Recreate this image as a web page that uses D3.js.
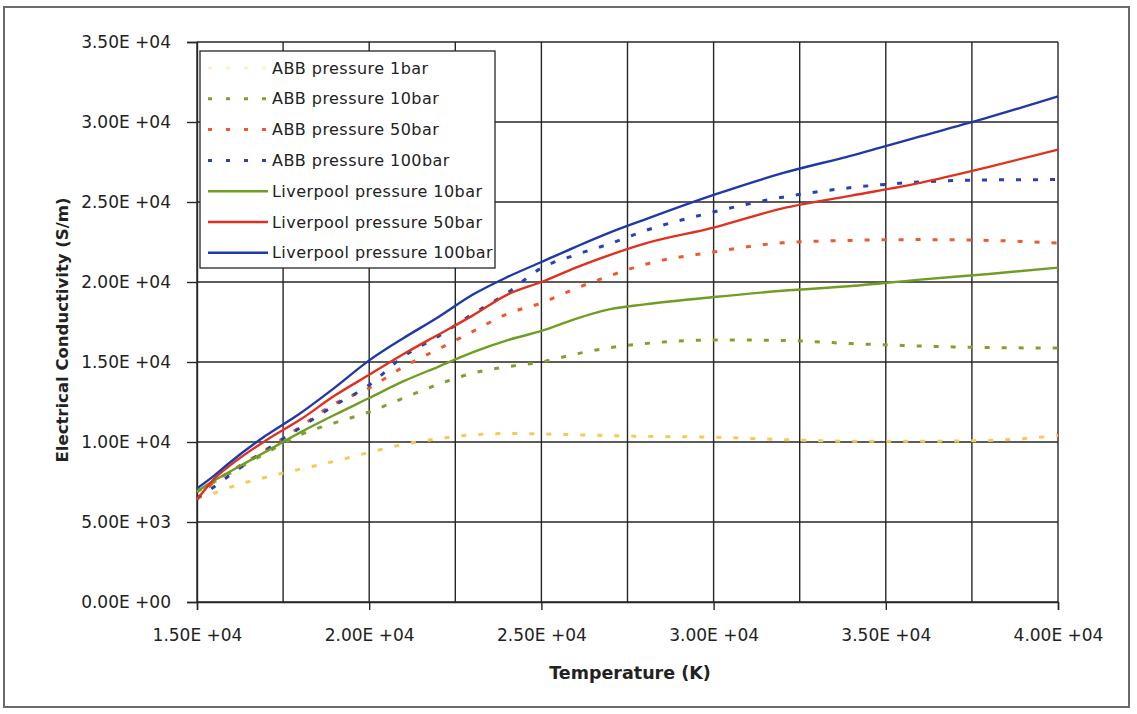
<!DOCTYPE html>
<html>
<head>
<meta charset="utf-8">
<script src="https://cdnjs.cloudflare.com/ajax/libs/d3/7.8.5/d3.min.js"></script>
<style>
  body { margin: 0; background: #fff; }
  text { font-family: "DejaVu Sans", Verdana, sans-serif; fill: #222; }
  .tick text { font-size: 17px; }
  .title { font-weight: bold; }
  .legend text { font-size: 16px; letter-spacing: 0.45px; }
</style>
</head>
<body>
<div id="chart"></div>
<script>
// temperature (K) shared by every series
var temps = [15000, 15500, 16000, 17000, 18000, 19000, 20000, 21000, 22000, 23000,
             24000, 25000, 26000, 27000, 28000, 30000, 32000, 34000, 36000, 38000, 40000];

// electrical conductivity (S/m)
var abb1   = [6500, 6800, 7200, 7800, 8300, 8800, 9350, 9850, 10200, 10450,
              10530, 10500, 10450, 10400, 10350, 10300, 10150, 10050, 10050, 10100, 10400];
var abb10  = [6900, 7500, 8100, 9300, 10450, 11200, 11875, 12750, 13600, 14300,
              14700, 15000, 15500, 15900, 16150, 16375, 16350, 16150, 16000, 15900, 15875];
var abb50  = [6400, 7500, 8200, 9500, 10950, 12400, 13375, 14700, 15800, 16900,
              18000, 18690, 19600, 20400, 21100, 21875, 22450, 22600, 22650, 22600, 22440];
var abb100 = [6500, 7200, 8000, 9500, 10900, 12300, 13560, 15350, 16600, 18000,
              19300, 20875, 21700, 22400, 23200, 24375, 25300, 25900, 26250, 26380, 26400];
var liv10  = [6900, 7600, 8200, 9400, 10600, 11700, 12750, 13800, 14700, 15600,
              16350, 16940, 17700, 18300, 18600, 19060, 19450, 19750, 20150, 20500, 20900];
var liv50  = [6400, 7700, 8600, 10100, 11400, 12900, 14200, 15500, 16700, 17900,
              19200, 20000, 20900, 21700, 22400, 23400, 24600, 25400, 26200, 27200, 28270];
var liv100 = [7100, 7900, 8800, 10400, 11800, 13400, 15100, 16500, 17800, 19200,
              20300, 21250, 22200, 23100, 23900, 25440, 26800, 27900, 29100, 30300, 31600];

var seriesNames = ["ABB pressure 1bar", "ABB pressure 10bar", "ABB pressure 50bar", "ABB pressure 100bar",
                   "Liverpool pressure 10bar", "Liverpool pressure 50bar", "Liverpool pressure 100bar"];
var seriesValues = [abb1, abb10, abb50, abb100, liv10, liv50, liv100];

var xTicks = [15000, 20000, 25000, 30000, 35000, 40000];
var xGrid  = [15000, 17500, 20000, 22500, 25000, 27500, 30000, 32500, 35000, 37500, 40000];
var yTicks = [0, 5000, 10000, 15000, 20000, 25000, 30000, 35000];

var colors = ["#f5c95a", "#7fa22e", "#ec5a30", "#2443b4", "#6f9e22", "#e0311f", "#1f3aa8"];
var dotted = [true, true, true, true, false, false, false];

var W = 1137, H = 714;
var margin = { left: 197, right: 79, top: 42, bottom: 112 };
var width = W - margin.left - margin.right;
var height = H - margin.top - margin.bottom;

function sci(v) {
    var e = v === 0 ? 0 : Math.floor(Math.log10(v));
    var m = v / Math.pow(10, e);
    var es = (e < 10 ? "0" : "") + e;
    return m.toFixed(2) + "E +" + es;
}

var svg = d3.select("#chart").append("svg")
    .attr("width", W)
    .attr("height", H);

svg.append("rect")
    .attr("x", 4).attr("y", 7)
    .attr("width", 1125).attr("height", 700)
    .attr("fill", "#fff")
    .attr("stroke", "#6b6b6b")
    .attr("stroke-width", 2);

var g = svg.append("g")
    .attr("transform", "translate(" + margin.left + "," + margin.top + ")");

var x = d3.scaleLinear().domain([15000, 40000]).range([0, width]);
var y = d3.scaleLinear().domain([0, 35000]).range([height, 0]);

// grid
g.append("g").selectAll("line")
    .data(xGrid).enter().append("line")
    .attr("x1", function(d){ return x(d); }).attr("x2", function(d){ return x(d); })
    .attr("y1", 0).attr("y2", height)
    .attr("stroke", "#262626").attr("stroke-width", 1.4);

g.append("g").selectAll("line")
    .data(yTicks).enter().append("line")
    .attr("x1", 0).attr("x2", width)
    .attr("y1", function(d){ return y(d); }).attr("y2", function(d){ return y(d); })
    .attr("stroke", "#262626").attr("stroke-width", 1.4);

// axes
var xAxis = g.append("g")
    .attr("transform", "translate(0," + height + ")")
    .call(d3.axisBottom(x).tickValues(xTicks).tickFormat(sci).tickSize(8).tickPadding(19));

var yAxis = g.append("g")
    .call(d3.axisLeft(y).tickValues(yTicks).tickFormat(sci).tickSize(10).tickPadding(16));

[xAxis, yAxis].forEach(function(a){
    a.select(".domain").attr("stroke", "#262626").attr("stroke-width", 1.4);
    a.selectAll(".tick line").attr("stroke", "#262626").attr("stroke-width", 1.4);
    a.selectAll(".tick text").attr("fill", "#222");
});

g.append("text")
    .attr("class", "title")
    .attr("x", 630 - margin.left)
    .attr("y", 679 - margin.top)
    .style("text-anchor", "middle")
    .style("font-size", "17.5px")
    .text("Temperature (K)");

g.append("text")
    .attr("class", "title")
    .attr("transform", "rotate(-90)")
    .attr("x", -(330 - margin.top))
    .attr("y", 68 - margin.left)
    .style("text-anchor", "middle")
    .style("font-size", "16.5px")
    .text("Electrical Conductivity (S/m)");

// series
var line = d3.line()
    .x(function(d){ return x(d[0]); })
    .y(function(d){ return y(d[1]); })
    .curve(d3.curveMonotoneX);

seriesValues.forEach(function(vals, i) {
    var pts = temps.map(function(t, j){ return [t, vals[j]]; });
    g.append("path")
        .datum(pts)
        .attr("fill", "none")
        .attr("stroke", colors[i])
        .attr("stroke-width", dotted[i] ? 3 : 2.4)
        .attr("stroke-dasharray", dotted[i] ? "5,12" : null)
        .attr("d", line);
});

// legend
var legend = svg.append("g")
    .attr("class", "legend")
    .attr("transform", "translate(200,51)");

legend.append("rect")
    .attr("width", 295).attr("height", 217)
    .attr("fill", "#fff")
    .attr("stroke", "#262626")
    .attr("stroke-width", 1.3);

var item = legend.selectAll(".item")
    .data(seriesNames).enter().append("g")
    .attr("class", "item")
    .attr("transform", function(d, i){ return "translate(0," + (17 + i * 30.8) + ")"; });

item.append("line")
    .attr("x1", 8).attr("x2", 68)
    .attr("stroke", function(d, i){ return i === 0 ? "#fdf2c6" : colors[i]; })
    .attr("stroke-width", function(d, i){ return dotted[i] ? 3 : 2.6; })
    .attr("stroke-dasharray", function(d, i){ return dotted[i] ? "4,14" : null; });

item.append("text")
    .attr("x", 72)
    .attr("dy", "0.35em")
    .text(function(d){ return d; });
</script>
</body>
</html>
